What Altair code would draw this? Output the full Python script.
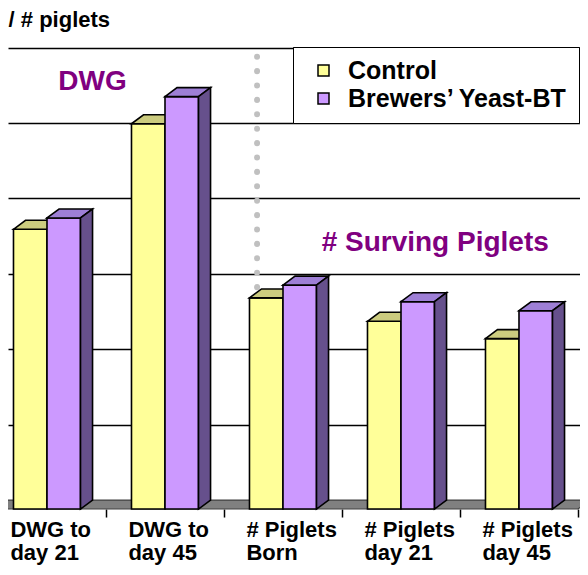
import altair as alt
import pandas as pd

# ---------------- data ----------------
categories = ["DWG to day 21", "DWG to day 45", "# Piglets Born", "# Piglets day 21", "# Piglets day 45"]
label_line1 = ["DWG to", "DWG to", "# Piglets", "# Piglets", "# Piglets"]
label_line2 = ["day 21", "day 45", "Born", "day 21", "day 45"]
series = ["Control", "Brewers’ Yeast-BT"]
control = [3.71, 5.11, 2.80, 2.49, 2.26]
yeast = [3.86, 5.47, 2.97, 2.75, 2.63]
grid_values = [1, 2, 3, 4, 5, 6]

# ---------------- styling / geometry ----------------
BAR_W = 0.284      # bar width in category units
DX = 0.102         # 3-D depth, horizontal (category units)
DY = 0.119         # 3-D depth, vertical (value units)
FRONT = {"Control": "#FFFF99", "Brewers’ Yeast-BT": "#CC99FF"}
TOP = {"Control": "#CCCC7F", "Brewers’ Yeast-BT": "#9E7FD6"}
SIDE = {"Control": "#999966", "Brewers’ Yeast-BT": "#66508C"}
X_DOM = [-0.3305, 4.517]
Y_DOM = [-0.769, 6.645]
W, H = 572, 559

xs = alt.Scale(domain=X_DOM, nice=False, zero=False)
ys = alt.Scale(domain=Y_DOM, nice=False, zero=False)

front_rows, top_rows, side_rows = [], [], []
for i, cat in enumerate(categories):
    for s, vals in zip(series, [control, yeast]):
        v = vals[i]
        x0 = i - BAR_W if s == series[0] else i
        x1 = x0 + BAR_W
        bid = f"{cat}|{s}"
        front_rows.append(dict(cat=cat, series=s, x0=x0, x1=x1, v=v))
        for x, top, bot in [(x0, v, v), (x0 + DX, v + DY, v), (x1, v + DY, v), (x1 + DX, v + DY, v + DY)]:
            top_rows.append(dict(bid=bid, series=s, x=x, top=top, bot=bot))
        for x, top, bot in [(x1, v, 0), (x1 + DX, v + DY, DY)]:
            side_rows.append(dict(bid=bid, series=s, x=x, top=top, bot=bot))

front = pd.DataFrame(front_rows)
tops = pd.DataFrame(top_rows)
sides = pd.DataFrame(side_rows)

# floor (grey slab under the bars)
floor_left, floor_right = X_DOM[0] - 0.3, len(categories) - 0.5
floor = pd.DataFrame([
    dict(x=floor_left, top=0, bot=0),
    dict(x=floor_left + DX, top=DY, bot=0),
    dict(x=floor_right, top=DY, bot=0),
    dict(x=floor_right + DX, top=DY, bot=DY),
])

grid_df = pd.DataFrame({"v": [g + DY for g in grid_values]})

stroke = dict(stroke="black", strokeWidth=1.6)


def col(field, mapping):
    return alt.Color(f"{field}:N", scale=alt.Scale(domain=series, range=[mapping[s] for s in series]), legend=None)


zero_offset = -(H - (Y_DOM[1] - 0) / (Y_DOM[1] - Y_DOM[0]) * H)

# back-wall grid lines through the y axis, floor ticks through the x axis
base_axis_layer = alt.Chart(grid_df).mark_rule(opacity=0).encode(
    x=alt.X("v:Q", scale=xs, axis=alt.Axis(
        values=[i + 0.5 for i in range(len(categories))], labels=False, domain=False,
        grid=False, ticks=True, tickSize=8, tickColor="black", tickWidth=1.5,
        offset=zero_offset, title=None)),
    y=alt.Y("v:Q", scale=ys, axis=alt.Axis(
        values=[g + DY for g in grid_values], labels=False, domain=False, ticks=False,
        grid=True, gridColor="black", gridWidth=1.5, gridOpacity=1, title=None)),
)

# dotted separator
sep_df = pd.DataFrame({"x": [1.78], "y": [6.0], "y2": [-0.08]})
sep = alt.Chart(sep_df).mark_rule(color="#C0C0C0", strokeWidth=6, strokeCap="round",
                                  strokeDash=[0.1, 14.3]).encode(
    x=alt.X("x:Q", scale=xs), y=alt.Y("y:Q", scale=ys), y2="y2:Q")

floor_layer = alt.Chart(floor).mark_area(color="#808080", stroke="#404040", strokeWidth=1.2,
                                         interpolate="linear").encode(
    x=alt.X("x:Q", scale=xs), y=alt.Y("top:Q", scale=ys), y2="bot:Q")

layers = [base_axis_layer, sep, floor_layer]
for s in series:
    f = front[front.series == s]
    t = tops[tops.series == s]
    sd = sides[sides.series == s]
    layers.append(alt.Chart(f).mark_rect(**stroke).encode(
        x=alt.X("x0:Q", scale=xs), x2="x1:Q",
        y=alt.Y("v:Q", scale=ys), y2=alt.datum(0),
        color=alt.Color("series:N", scale=alt.Scale(domain=series, range=[FRONT[k] for k in series]),
                        legend=alt.Legend(
                            title=None, orient="none", legendX=285, legendY=39,
                            direction="vertical", symbolType="square", symbolSize=121,
                            symbolStrokeColor="black", symbolStrokeWidth=1.5,
                            symbolOffset=7, labelOffset=12, labelLimit=0,
                            labelFont="Liberation Sans", labelFontSize=25, labelFontWeight="bold",
                            labelColor="black", rowPadding=2, padding=11,
                            fillColor="white", strokeColor="black",
                        )),
    ))
    layers.append(alt.Chart(t).mark_area(interpolate="linear", **stroke).encode(
        x=alt.X("x:Q", scale=xs), y=alt.Y("top:Q", scale=ys), y2="bot:Q",
        detail="bid:N", color=col("series", TOP)))
    if s == series[1]:
        layers.append(alt.Chart(sd).mark_area(interpolate="linear", **stroke).encode(
            x=alt.X("x:Q", scale=xs), y=alt.Y("top:Q", scale=ys), y2="bot:Q",
            detail="bid:N", color=col("series", SIDE)))

# category labels (left-aligned two-line)
lab = pd.DataFrame({"x": [i - 0.31 for i in range(len(categories))],
                    "l1": label_line1, "l2": label_line2})
font = "Liberation Sans"
lab1 = alt.Chart(lab).mark_text(align="left", baseline="middle", font=font, fontSize=22,
                                fontWeight="bold", color="black").encode(
    x=alt.X("x:Q", scale=xs), y=alt.datum(-0.28, scale=ys), text="l1:N")
lab2 = alt.Chart(lab).mark_text(align="left", baseline="middle", font=font, fontSize=22,
                                fontWeight="bold", color="black").encode(
    x=alt.X("x:Q", scale=xs), y=alt.datum(-0.585, scale=ys), text="l2:N")

ann = pd.DataFrame({"x": [0.386, 3.29], "y": [5.66, 3.53], "t": ["DWG", "# Surving Piglets"],
                    "fs": [28, 28]})
ann_layer = alt.Chart(ann).mark_text(font=font, fontWeight="bold", color="#800080",
                                     align="center", baseline="middle").encode(
    x=alt.X("x:Q", scale=xs), y=alt.Y("y:Q", scale=ys), text="t:N",
    size=alt.Size("fs:Q", scale=None, legend=None))

title_df = pd.DataFrame({"x": [X_DOM[0] + 0.005], "y": [6.49], "t": ["/ # piglets"]})
title_layer = alt.Chart(title_df).mark_text(font=font, fontWeight="bold", fontSize=22,
                                            color="black", align="left", baseline="middle").encode(
    x=alt.X("x:Q", scale=xs), y=alt.Y("y:Q", scale=ys), text="t:N")

chart = alt.layer(*layers, lab1, lab2, ann_layer, title_layer).resolve_scale(color="independent").properties(
    width=W, height=H, autosize=alt.AutoSizeParams(type="none"), padding=0,
    background="white",
).configure_view(stroke=None)

chart.save("out.html", embed_options={"renderer": "svg", "actions": False})
